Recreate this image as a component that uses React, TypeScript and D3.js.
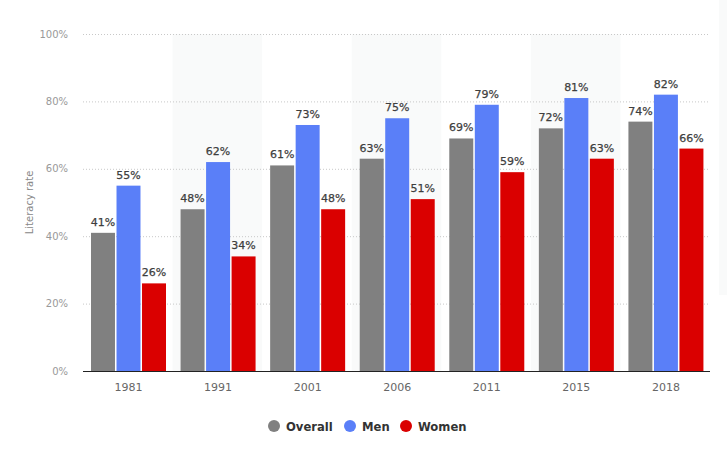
import React, { useRef, useEffect } from 'react';
import * as d3 from 'd3';

const years = ['1981', '1991', '2001', '2006', '2011', '2015', '2018'];
const overall = [41, 48, 61, 63, 69, 72, 74];
const men = [55, 62, 73, 75, 79, 81, 82];
const women = [26, 34, 48, 51, 59, 63, 66];
const seriesNames = ['Overall', 'Men', 'Women'];
const seriesColors = ['#808080', '#5a7ff8', '#da0000'];
const yTicks = [0, 20, 40, 60, 80, 100];

export default function App(): JSX.Element {
  const divRef = useRef<HTMLDivElement>(null);
  useEffect(() => {
    const divEle = divRef.current;
    if (divEle == null) return;
    d3.select(divEle).selectAll('*').remove();

    const width = 727;
    const height = 456;
    const left = 83;
    const right = 710;
    const top = 34;
    const bottom = 371;
    const font = '"DejaVu Sans", sans-serif';

    const svg = d3
      .select(divEle)
      .append('svg')
      .attr('width', width)
      .attr('height', height)
      .style('display', 'block');

    const x = d3.scaleBand().domain(years).range([left, right]);
    const inner = d3
      .scaleBand()
      .domain(seriesNames)
      .range([8, 83])
      .paddingInner(0.06);
    const y = d3.scaleLinear().domain([0, 100]).range([bottom, top]);

    // right edge shadow
    svg
      .append('rect')
      .attr('x', 719)
      .attr('y', 0)
      .attr('width', 8)
      .attr('height', 295)
      .attr('fill', '#f9fafa');

    // alternating bands
    svg
      .selectAll('rect.band')
      .data(years.filter((_, i) => i % 2 === 1))
      .join('rect')
      .attr('class', 'band')
      .attr('x', (d) => x(d) as number)
      .attr('y', y(100))
      .attr('width', x.bandwidth())
      .attr('height', y(0) - y(100))
      .attr('fill', '#f9fafa');

    // grid
    svg
      .selectAll('line.grid')
      .data(yTicks.filter((t) => t > 0))
      .join('line')
      .attr('class', 'grid')
      .attr('x1', left)
      .attr('x2', right)
      .attr('y1', (d) => y(d) + 0.5)
      .attr('y2', (d) => y(d) + 0.5)
      .attr('stroke', '#c8c8c8')
      .attr('stroke-dasharray', '1,2');

    svg
      .selectAll('text.ytick')
      .data(yTicks)
      .join('text')
      .attr('class', 'ytick')
      .attr('x', 68)
      .attr('y', (d) => y(d) + 3.5)
      .attr('text-anchor', 'end')
      .attr('font-family', font)
      .attr('font-size', 10)
      .attr('fill', '#999')
      .text((d) => `${d}%`);

    svg
      .append('text')
      .attr('transform', `translate(33, ${(top + bottom) / 2}) rotate(-90)`)
      .attr('text-anchor', 'middle')
      .attr('font-family', font)
      .attr('font-size', 10)
      .attr('fill', '#888')
      .text('Literacy rate');

    const seriesValues = [overall, men, women];
    seriesNames.forEach((name, si) => {
      const data = years.map((yr, i) => ({ yr, v: seriesValues[si][i] }));
      const g = svg.append('g');
      g.selectAll('rect')
        .data(data)
        .join('rect')
        .attr('x', (d) => (x(d.yr) as number) + (inner(name) as number))
        .attr('y', (d) => y(d.v))
        .attr('width', inner.bandwidth())
        .attr('height', (d) => y(0) - y(d.v))
        .attr('fill', seriesColors[si]);
      g.selectAll('text')
        .data(data)
        .join('text')
        .attr('x', (d) => (x(d.yr) as number) + (inner(name) as number) + inner.bandwidth() / 2)
        .attr('y', (d) => y(d.v) - 7)
        .attr('text-anchor', 'middle')
        .attr('font-family', font)
        .attr('font-size', 11)
        .attr('fill', '#3e3e3e')
        .attr('stroke', '#3e3e3e')
        .attr('stroke-width', 0.25)
        .text((d) => `${d.v}%`);
    });

    // axis line
    svg
      .append('line')
      .attr('x1', left)
      .attr('x2', right)
      .attr('y1', bottom + 0.5)
      .attr('y2', bottom + 0.5)
      .attr('stroke', '#222')
      .attr('stroke-width', 1);

    svg
      .selectAll('text.xtick')
      .data(years)
      .join('text')
      .attr('class', 'xtick')
      .attr('x', (d) => (x(d) as number) + 8 + 75 / 2)
      .attr('y', 391)
      .attr('text-anchor', 'middle')
      .attr('font-family', font)
      .attr('font-size', 11)
      .attr('fill', '#666')
      .text((d) => d);

    // legend
    const legendX = [274, 350, 406];
    const lg = svg
      .selectAll('g.legend')
      .data(seriesNames)
      .join('g')
      .attr('class', 'legend')
      .attr('transform', (_, i) => `translate(${legendX[i]}, 426)`);
    lg.append('circle')
      .attr('r', 6)
      .attr('fill', (_, i) => seriesColors[i]);
    lg.append('text')
      .attr('x', 12)
      .attr('y', 4.5)
      .attr('font-family', font)
      .attr('font-size', 11.6)
      .attr('font-weight', 'bold')
      .attr('fill', '#333')
      .text((d) => d);
  }, []);
  return (
    <div
      ref={divRef}
      style={{ position: 'absolute', left: 0, top: 0, width: 727, height: 456 }}
    />
  );
}
